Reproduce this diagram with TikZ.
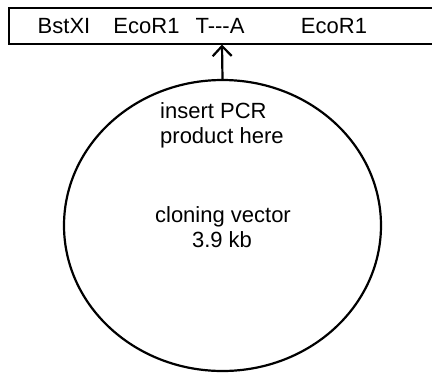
\documentclass[tikz,border=0pt]{standalone}
\usepackage{fontspec}
\setmainfont{Liberation Sans}
\usetikzlibrary{shapes.geometric,arrows.meta}
\begin{document}
\begin{tikzpicture}[x=1pt,y=-1pt,
  lbl/.style={inner sep=0pt,anchor=base,font=\fontsize{22}{25}\selectfont},
  lblw/.style={lbl,anchor=base west},
  thick line/.style={line width=2.4pt},
  vecshape/.style={ellipse,draw,line width=2.2pt,minimum width=317pt,minimum height=291pt,inner sep=0pt}]
\useasboundingbox (0,0) rectangle (432,373);
% restriction site bar (open on the right, cut by the picture edge)
\draw[thick line] (432,8) -- (9,8) -- (9,44) -- (432,44);
\coordinate (barbot) at (222,44.5);
\node[lbl] (bst) at (64,33.5) {BstXI};
\node[lbl] (eco1) at (146.5,33.5) {EcoR1};
\node[lbl] (ta) at (220,33.5) {T-{}-{}-A};
\node[lbl] (eco2) at (334,33.5) {EcoR1};
% vector
\node[vecshape] (vec) at (222.5,225.5) {};
\draw[line width=2.2pt,-{Straight Barb[length=10pt,width=19pt,line width=2.2pt]}] (vec.north) -- (barbot);
\node[lblw] (ins) at (160,118.3) {insert PCR};
\node[lblw] (prod) at (160,143.5) {product here};
\node[lbl] (clon) at (223,222.5) {cloning vector};
\node[lbl] (size) at (222,247.5) {3.9 kb};
\end{tikzpicture}
\end{document}
